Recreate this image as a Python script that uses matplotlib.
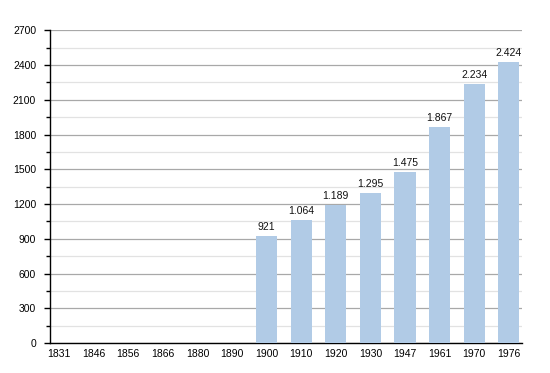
import matplotlib
matplotlib.use("Agg")
import matplotlib.pyplot as plt
import numpy as np

years = ["1831", "1846", "1856", "1866", "1880", "1890", "1900", "1910",
         "1920", "1930", "1947", "1961", "1970", "1976"]
population = [None, None, None, None, None, None, 921, 1064,
              1189, 1295, 1475, 1867, 2234, 2424]
yticks_major = [0, 300, 600, 900, 1200, 1500, 1800, 2100, 2400, 2700]

plt.rcParams['font.family'] = ['Liberation Sans', 'DejaVu Sans']

fig = plt.figure(figsize=(5.5, 3.73), dpi=100)
ax = fig.add_axes([50/550, 1 - 343/373, (522-50)/550, (343-30.3)/373])

x = np.arange(len(years))
vals = np.array([np.nan if v is None else v for v in population], dtype=float)
bars = ax.bar(x, np.nan_to_num(vals), width=0.61, color="#b1cbe6", zorder=3)

for xi, v in zip(x, population):
    if v is not None:
        s = f"{v:,}".replace(",", ".")
        ax.annotate(s, (xi, v), xytext=(0, 3), textcoords="offset points",
                    ha="center", va="bottom", fontsize=7.5, color="#111111", zorder=4)

ax.set_ylim(0, 2700)
ax.set_xlim(-0.26, 13.38)
ax.set_yticks(yticks_major)
ax.set_yticks(np.arange(150, 2700, 300), minor=True)
ax.set_xticks(x)
ax.set_xticklabels(years)

ax.grid(axis="y", which="major", color="#a8a8a8", linewidth=0.9, zorder=0)
ax.grid(axis="y", which="minor", color="#e2e2e2", linewidth=0.9, zorder=0)
ax.set_axisbelow(True)

for sp in ["top", "right"]:
    ax.spines[sp].set_visible(False)
ax.spines["left"].set_linewidth(1.0)
ax.spines["bottom"].set_linewidth(1.0)
ax.spines["left"].set_color("black")
ax.spines["bottom"].set_color("black")

ax.tick_params(axis="y", which="major", length=4, width=1, labelsize=7.5, pad=6, colors="black")
ax.tick_params(axis="y", which="minor", length=3, width=1)
ax.tick_params(axis="x", which="both", length=0, labelsize=7.5, pad=4)

fig.savefig("out.png", dpi=100)
